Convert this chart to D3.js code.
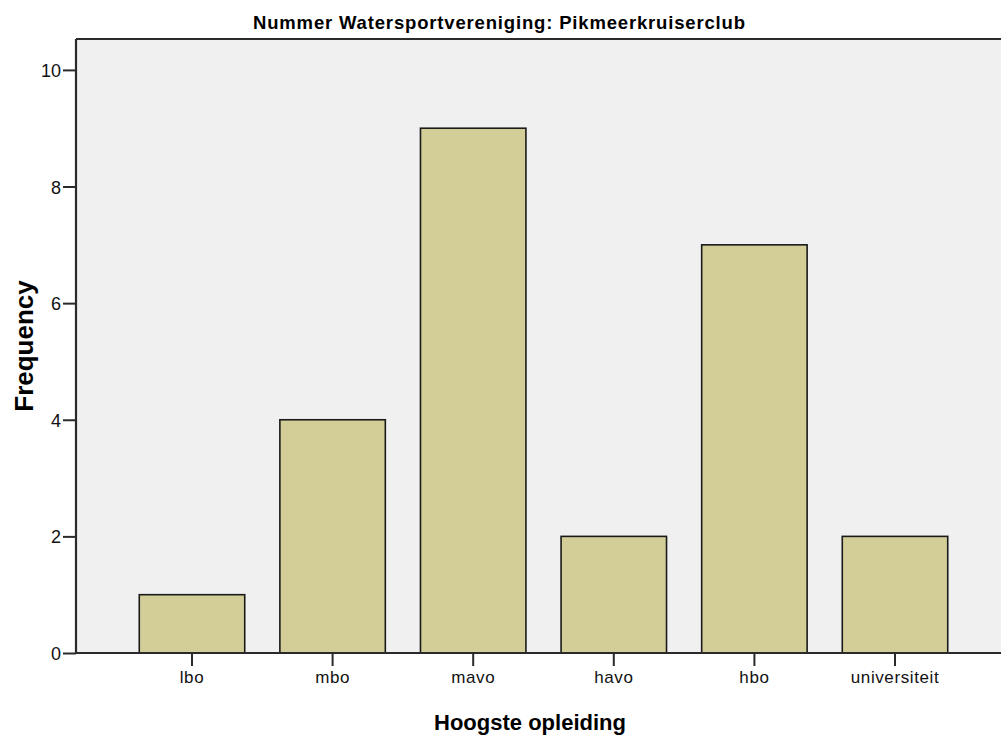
<!DOCTYPE html>
<html><head><meta charset="utf-8">
<script src="https://cdn.jsdelivr.net/npm/d3@7"></script>
<style>body{margin:0;background:#fff}svg{display:block}</style>
</head><body>
<script>
const categories = ["lbo","mbo","mavo","havo","hbo","universiteit"];
const frequencies = [1,4,9,2,7,2];
const yTicks = [0,2,4,6,8,10];
const title = "Nummer Watersportvereniging: Pikmeerkruiserclub";
const xTitle = "Hoogste opleiding";
const yTitle = "Frequency";

(function(){
const W = 1001, H = 740;
const pLeft = 76, pTop = 39, pBottom = 653, pRight = 1011;
const svg = d3.select("body").append("svg").attr("width", W).attr("height", H);
const font = "'Liberation Sans', Arial, sans-serif";

const x = d3.scaleBand().domain(categories).range([pLeft, pRight]).paddingInner(0.25).paddingOuter(0.45);
const y = d3.scaleLinear().domain([0, 10.53]).range([pBottom, pTop]);

svg.append("rect").attr("x", pLeft).attr("y", pTop).attr("width", W - pLeft).attr("height", pBottom - pTop).attr("fill", "#f0f0f0");

svg.selectAll("rect.bar").data(frequencies).join("rect").attr("class","bar")
  .attr("x", (d,i) => x(categories[i]))
  .attr("y", d => y(d))
  .attr("width", x.bandwidth())
  .attr("height", d => pBottom - y(d))
  .attr("fill", "#d3ce97").attr("stroke", "#1a1a1a").attr("stroke-width", 1.6);

svg.append("line").attr("x1", pLeft).attr("x2", W).attr("y1", pTop).attr("y2", pTop).attr("stroke", "#2a2a2a").attr("stroke-width", 2);

const yAxis = d3.axisLeft(y).tickValues(yTicks).tickSize(13).tickPadding(2).tickFormat(d3.format("d"));
const gy = svg.append("g").attr("transform", `translate(${pLeft},0)`).call(yAxis);
gy.select(".domain").attr("stroke", "#2a2a2a").attr("stroke-width", 2.2).attr("d", `M0,${pTop}V${pBottom}`);
gy.selectAll(".tick line").attr("stroke", "#2a2a2a").attr("stroke-width", 2);
gy.selectAll(".tick text").attr("font-family", font).attr("font-size", 18).attr("fill", "#111").attr("dy", "0.36em");

const xAxis = d3.axisBottom(x).tickSize(13).tickPadding(5);
const gx = svg.append("g").attr("transform", `translate(0,${pBottom})`).call(xAxis);
gx.select(".domain").attr("stroke", "#2a2a2a").attr("stroke-width", 2).attr("d", `M${pLeft},0H${W}`);
gx.selectAll(".tick line").attr("stroke", "#2a2a2a").attr("stroke-width", 2);
gx.selectAll(".tick text").attr("font-family", font).attr("font-size", 17).attr("letter-spacing", 0.6).attr("fill", "#111");

svg.append("text").attr("x", 499).attr("y", 29).attr("text-anchor", "middle")
  .attr("font-family", font).attr("font-weight", "bold").attr("font-size", 18.5).attr("fill", "#000")
  .attr("textLength", 492).attr("lengthAdjust", "spacing").text(title);
svg.append("text").attr("x", 530).attr("y", 730).attr("text-anchor", "middle")
  .attr("font-family", font).attr("font-weight", "bold").attr("font-size", 22).attr("fill", "#000").text(xTitle);
svg.append("text").attr("transform", `translate(33,346) rotate(-90)`).attr("text-anchor", "middle")
  .attr("font-family", font).attr("font-weight", "bold").attr("font-size", 26).attr("fill", "#000").text(yTitle);
})();
</script>
</body></html>
